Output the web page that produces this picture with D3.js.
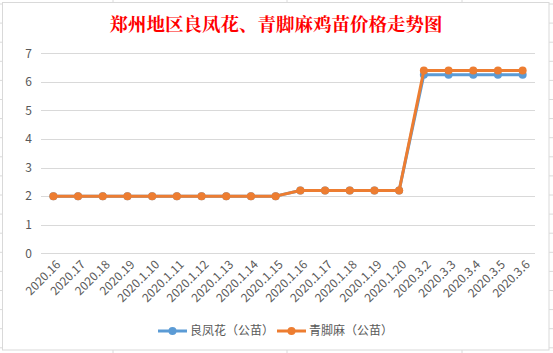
<!DOCTYPE html>
<html>
<head>
<meta charset="utf-8">
<script src="https://cdn.jsdelivr.net/npm/d3@7/dist/d3.min.js"></script>
<style>
  html, body { margin: 0; padding: 0; background: #fff; }
  svg { display: block; }
</style>
</head>
<body>
<div id="chart"></div>
<script>
const categories = [
  '2020.16', '2020.17', '2020.18', '2020.19', '2020.1.10', '2020.1.11', '2020.1.12',
  '2020.1.13', '2020.1.14', '2020.1.15', '2020.1.16', '2020.1.17', '2020.1.18',
  '2020.1.19', '2020.1.20', '2020.3.2', '2020.3.3', '2020.3.4', '2020.3.5', '2020.3.6'
];
const liangFengHua = [2, 2, 2, 2, 2, 2, 2, 2, 2, 2, 2.2, 2.2, 2.2, 2.2, 2.2, 6.25, 6.25, 6.25, 6.25, 6.25];
const qingJiaoMa   = [2, 2, 2, 2, 2, 2, 2, 2, 2, 2, 2.2, 2.2, 2.2, 2.2, 2.2, 6.4, 6.4, 6.4, 6.4, 6.4];
const yTicks = [0, 1, 2, 3, 4, 5, 6, 7];
const seriesNames = ['良凤花（公苗）', '青脚麻（公苗）'];
const title = '郑州地区良凤花、青脚麻鸡苗价格走势图';

const W = 553, H = 353;
const FONT = '"Noto Sans CJK SC", "Noto Sans", sans-serif';
const LABEL = '#595959';

const svg = d3.select('#chart').append('svg')
  .attr('width', W).attr('height', H);

// spreadsheet cell grid behind the chart object
const sheet = svg.append('g');
d3.range(4, H, 19.1).forEach(y => {
  sheet.append('line').attr('x1', 0).attr('x2', W).attr('y1', y).attr('y2', y)
    .attr('stroke', '#dadada').attr('stroke-width', 1);
});
[113, 287, 462].forEach(x => {
  sheet.append('line').attr('x1', x).attr('x2', x).attr('y1', 0).attr('y2', H)
    .attr('stroke', '#dadada').attr('stroke-width', 1);
});

// chart object frame
svg.append('rect')
  .attr('x', 2.5).attr('y', 2.5).attr('width', 546.5).attr('height', 347.5)
  .attr('fill', '#fff').attr('stroke', '#d9d9d9');

svg.append('text')
  .attr('x', 276).attr('y', 31)
  .attr('text-anchor', 'middle')
  .attr('font-family', '"Noto Serif CJK SC", "Noto Sans CJK SC", serif')
  .attr('font-size', 18.5).attr('font-weight', 700)
  .attr('fill', '#ff0000')
  .text(title);

const plot = { left: 41, right: 535, top: 53.3, bottom: 253.3 };

const x = d3.scaleBand()
  .domain(categories)
  .range([plot.left, plot.right]);
const y = d3.scaleLinear().domain([0, 7]).range([plot.bottom, plot.top]);
const cx = c => x(c) + x.bandwidth() / 2;

// gridlines
yTicks.forEach(v => {
  svg.append('line')
    .attr('x1', plot.left).attr('x2', plot.right)
    .attr('y1', Math.round(y(v)) + 0.5).attr('y2', Math.round(y(v)) + 0.5)
    .attr('stroke', '#d9d9d9').attr('stroke-width', 1);
  svg.append('text')
    .attr('x', 32).attr('y', y(v))
    .attr('dy', '0.36em')
    .attr('text-anchor', 'end')
    .attr('font-family', FONT).attr('font-size', 12)
    .attr('fill', LABEL)
    .text(v);
});

// x labels, rotated
categories.forEach(c => {
  svg.append('text')
    .attr('transform', `translate(${cx(c) + 5},${plot.bottom + 9}) rotate(-45)`)
    .attr('text-anchor', 'end')
    .attr('dy', '0.35em')
    .attr('font-family', FONT).attr('font-size', 12)
    .attr('fill', LABEL)
    .text(c);
});

const colors = ['#5b9bd5', '#ed7d31'];
const line = d3.line().x((d, i) => cx(categories[i])).y(d => y(d));

[liangFengHua, qingJiaoMa].forEach((vals, k) => {
  svg.append('path').datum(vals)
    .attr('d', line)
    .attr('fill', 'none')
    .attr('stroke', colors[k])
    .attr('stroke-width', 3)
    .attr('stroke-linejoin', 'round');
  svg.selectAll(null).data(vals).enter().append('circle')
    .attr('cx', (d, i) => cx(categories[i]))
    .attr('cy', d => y(d))
    .attr('r', 4)
    .attr('fill', colors[k]);
});

// legend
const legendItems = [
  { name: seriesNames[0], color: colors[0], x0: 158 },
  { name: seriesNames[1], color: colors[1], x0: 277 },
];
const ly = 331;
legendItems.forEach(it => {
  svg.append('line')
    .attr('x1', it.x0).attr('x2', it.x0 + 29)
    .attr('y1', ly).attr('y2', ly)
    .attr('stroke', it.color).attr('stroke-width', 3);
  svg.append('circle')
    .attr('cx', it.x0 + 14.5).attr('cy', ly).attr('r', 4)
    .attr('fill', it.color);
  svg.append('text')
    .attr('x', it.x0 + 32).attr('y', ly)
    .attr('dy', '0.36em')
    .attr('font-family', FONT).attr('font-size', 12)
    .attr('fill', LABEL)
    .text(it.name);
});
</script>
</body>
</html>
